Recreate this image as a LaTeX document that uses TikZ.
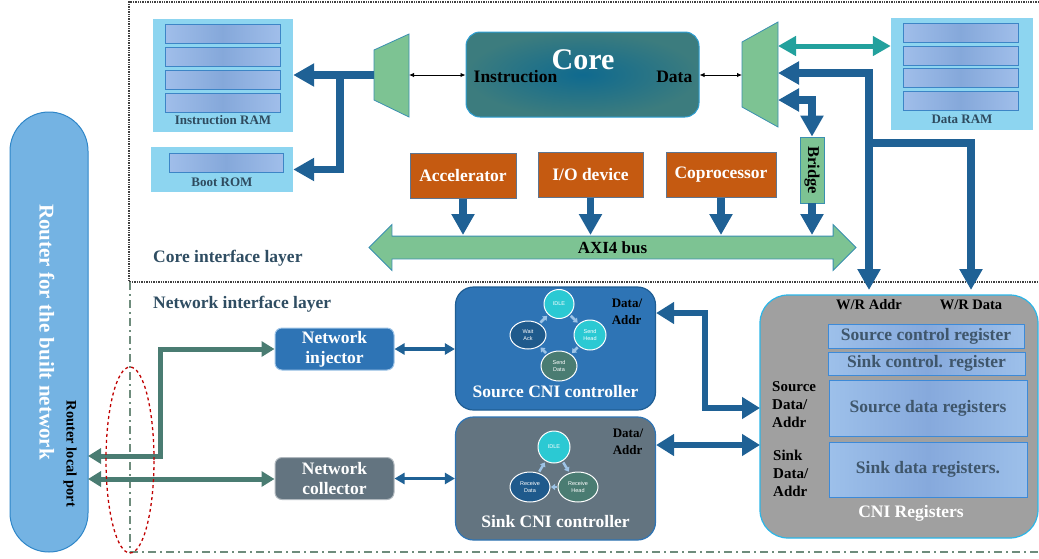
\documentclass[tikz,border=0pt]{standalone}
\usepackage{fontspec}
\usepackage{graphicx}
\setmainfont{Liberation Serif}
\newfontfamily\fsmfont{Liberation Sans}
\usepackage{tikz}
\usetikzlibrary{arrows.meta,positioning,shapes.geometric,shapes.arrows}

\definecolor{ramfill}{HTML}{8DD5F0}
\definecolor{rowside}{HTML}{A0BEEA}
\definecolor{rowmid}{HTML}{85A8DA}
\definecolor{ramedge}{HTML}{3D85C6}
\definecolor{ramtxt}{HTML}{2E4A5E}
\definecolor{arrblue}{HTML}{1F6195}
\definecolor{corein}{HTML}{0F6A8F}
\definecolor{coreout}{HTML}{3C7C7E}
\definecolor{coreedge}{HTML}{2E9ED3}
\definecolor{accfill}{HTML}{C55A11}
\definecolor{accedge}{HTML}{5E7590}
\definecolor{grnfill}{HTML}{7DC393}
\definecolor{muxedge}{HTML}{3A8FB0}
\definecolor{tealc}{HTML}{22A19D}
\definecolor{srcfill}{HTML}{2E74B5}
\definecolor{srcedge}{HTML}{1F5E94}
\definecolor{snkfill}{HTML}{637480}
\definecolor{injedge}{HTML}{9DC3E6}
\definecolor{colledge}{HTML}{B0B8BE}
\definecolor{grnc}{HTML}{4A7C72}
\definecolor{regfill}{HTML}{A0A0A0}
\definecolor{regedge}{HTML}{2BB6E8}
\definecolor{rboxside}{HTML}{9DC0EA}
\definecolor{rboxmid}{HTML}{86A9DC}
\definecolor{rboxedge}{HTML}{3D8AD8}
\definecolor{rboxtxt}{HTML}{3F566B}
\definecolor{routfill}{HTML}{74B3E3}
\definecolor{routedge}{HTML}{2E86C8}
\definecolor{layertxt}{HTML}{2F4D62}
\definecolor{ringred}{HTML}{C00000}
\definecolor{idlec}{HTML}{2BC9D3}
\definecolor{waitc}{HTML}{1F5A8C}
\definecolor{fsmarrc}{HTML}{9DC3E6}
\definecolor{netframe}{HTML}{6E8C7C}

\begin{document}
\begin{tikzpicture}[x=1pt,y=-1pt,
  bt/.tip={Triangle[length=21pt,width=22pt]},
  tt/.tip={Triangle[length=18pt,width=19pt]},
  gt/.tip={Triangle[length=13pt,width=15pt]},
  mt/.tip={Triangle[length=10pt,width=11pt]},
  ct/.tip={Triangle[length=18pt,width=21pt]},
  ramrow/.style={draw=ramedge,line width=0.8pt,left color=rowside,right color=rowside,middle color=rowmid,minimum width=115pt,minimum height=19pt,inner sep=0pt},
  rambox/.style={fill=ramfill,inner sep=0pt},
  ramlbl/.style={text=ramtxt,font=\bfseries\fontsize{13}{15}\selectfont,inner sep=0pt},
  muxst/.style={fill=grnfill,draw=muxedge,line width=0.8pt},
  periph/.style={fill=accfill,draw=accedge,line width=1pt,text=white,font=\bfseries\fontsize{17.5}{21}\selectfont,minimum height=45pt,inner sep=0pt},
  bigarr/.style={draw=arrblue,line width=7.5pt,-bt},
  thinarr/.style={draw=black,line width=0.9pt,{Latex[length=5pt,width=4.5pt]}-{Latex[length=5pt,width=4.5pt]}},
  netblk/.style={rounded corners=7pt,minimum width=119pt,minimum height=42pt,text=white,line width=1pt,inner sep=0pt,align=center,font=\bfseries\fontsize{17.5}{20}\selectfont},
  ctrlst/.style={rounded corners=18pt,minimum width=200pt,minimum height=123pt,line width=1.2pt,inner sep=0pt},
  ctrllbl/.style={text=white,font=\bfseries\fontsize{17.5}{21}\selectfont,inner sep=0pt},
  addrlbl/.style={align=left,font=\bfseries\fontsize{13}{17}\selectfont,inner sep=0pt},
  fsmst/.style={ellipse,draw=white,line width=1pt,text=white,align=center,inner sep=0pt,font=\fsmfont\fontsize{5.5}{6.5}\selectfont},
  fsmarr/.style={draw=fsmarrc,line width=2.5pt,-{Triangle[length=4pt,width=6pt]},shorten <=1.5pt,shorten >=1.5pt},
  rbox/.style={draw=rboxedge,line width=0.8pt,left color=rboxside,right color=rboxside,middle color=rboxmid,text=rboxtxt,inner sep=0pt,font=\bfseries\fontsize{17.5}{20}\selectfont},
  sidelbl/.style={align=left,font=\bfseries\fontsize{15}{18}\selectfont,inner sep=0pt},
  layerlbl/.style={text=layertxt,font=\bfseries\fontsize{17.5}{21}\selectfont,inner sep=0pt}]
\useasboundingbox (0,0) rectangle (1039,558);

% layer frames
\draw[densely dotted,line width=1.4pt,black!75] (1039,2) -- (129,2) -- (129,282) -- (1039,282);
\draw[netframe,line width=1.5pt,dash pattern=on 8pt off 4pt on 2pt off 4pt] (130,282) -- (130,552) -- (1039,552);
\node[layerlbl,anchor=west] (corelayer) at (153,258) {Core interface layer};
\node[layerlbl,anchor=west] (netlayer) at (153,304) {Network interface layer};

% router
\node[rounded corners=39pt,fill=routfill,draw=routedge,line width=1pt,minimum width=78pt,minimum height=440pt,inner sep=0pt] (router) at (49,332) {};
\node[rotate=-90,text=white,font=\bfseries\fontsize{21}{25}\selectfont] (routername) at (47,332) {Router for the built network};
\node[rotate=-90,font=\bfseries\fontsize{14.5}{17}\selectfont] (localport) at (70,454) {Router local port};

% memories
\node[rambox,minimum width=140pt,minimum height=113pt] (iram) at (223,75.5) {};
\foreach \y [count=\i] in {34,57,79.5,102.5}
  \node[ramrow] (ir\i) at (222.5,\y) {};
\node[ramlbl] (iramlbl) at (223,120.5) {Instruction RAM};
\node[rambox,minimum width=142pt,minimum height=45pt] (brom) at (222,169.5) {};
\node[ramrow,minimum width=114pt] (br1) at (226,162.5) {};
\node[ramlbl] (bromlbl) at (222,182.5) {Boot ROM};
\node[rambox,minimum width=142pt,minimum height=112pt] (dram) at (962,74) {};
\foreach \y [count=\i] in {32.5,55.5,78,101}
  \node[ramrow] (dr\i) at (960.5,\y) {};
\node[ramlbl] (dramlbl) at (962,119.5) {Data RAM};

% muxes
\filldraw[muxst] (374,50) -- (409,34) -- (409,117) -- (374,100) -- cycle;
\filldraw[muxst] (742,42) -- (778,22) -- (778,127) -- (742,107) -- cycle;
\coordinate (mux1l) at (374,75);
\coordinate (mux1r) at (409,75);
\coordinate (mux2l) at (742,75);
\coordinate (mux2t) at (778,46);
\coordinate (mux2r) at (778,73);
\coordinate (mux2b) at (778,100);

% core
\node[rounded corners=14pt,inner color=corein,outer color=coreout,draw=coreedge,line width=1pt,minimum width=233pt,minimum height=85pt,inner sep=0pt] (core) at (582.5,74.5) {};
\node[text=white,font=\bfseries\fontsize{30}{34}\selectfont,inner sep=0pt] (corelbl) at (583,60) {Core};
\node[anchor=west,font=\bfseries\fontsize{17.5}{21}\selectfont,inner sep=0pt] (instrlbl) at ([xshift=8pt,yshift=-2.5pt]core.west) {Instruction};
\node[anchor=east,font=\bfseries\fontsize{17.5}{21}\selectfont,inner sep=0pt] (datalbl) at ([xshift=-7pt,yshift=-2.5pt]core.east) {Data};

% peripherals and bus
\node[periph,minimum width=106pt] (acc) at (463,175.5) {Accelerator};
\node[periph,minimum width=105pt] (iodev) at (590.5,174.5) {I/O device};
\node[periph,minimum width=110pt] (copro) at (721,174.5) {Coprocessor};
\node[fill=grnfill,draw=muxedge,line width=0.8pt,minimum width=24pt,minimum height=66pt,inner sep=0pt,font=\bfseries\fontsize{16.5}{20}\selectfont] (bridge) at (812,170) {\rotatebox{-90}{Bridge}};
\node[double arrow,fill=grnfill,draw=muxedge,line width=0.8pt,minimum height=487pt,minimum width=45pt,double arrow head extend=11.5pt,text height=12pt,text depth=0pt,inner ysep=5pt,inner xsep=0pt,font=\bfseries\fontsize{17}{20}\selectfont] (axibus) at (612.5,247.5) {AXI4 bus};
\coordinate (bustop) at (612.5,235);

\draw[bigarr] (acc.south) -- (acc.south |- bustop);
\draw[bigarr] (iodev.south) -- (iodev.south |- bustop);
\draw[bigarr] (copro.south) -- (copro.south |- bustop);
\draw[bigarr] (bridge.south) -- (bridge.south |- bustop);

% core side connectors
\coordinate (romsplit) at (340,75);
\draw[bigarr] (mux1l) -- (iram.east |- mux1l);
\draw[bigarr] (romsplit) |- (brom.east);
\draw[thinarr] (mux1r) -- (core.west |- mux1r);
\draw[thinarr] (core.east |- mux2l) -- (mux2l);
\draw[draw=tealc,line width=5pt,tt-tt] (mux2t) -- (mux2t -| dram.west);
\draw[bigarr,bt-bt] (mux2b) -| (bridge.north);

% CNI registers
\node[rounded corners=28pt,fill=regfill,draw=regedge,line width=1.2pt,minimum width=278pt,minimum height=243pt,inner sep=0pt] (cnireg) at (899,416.5) {};
\node[font=\bfseries\fontsize{14.5}{17}\selectfont,inner sep=0pt] (wraddrlbl) at (869,305) {W/R Addr};
\node[font=\bfseries\fontsize{14.5}{17}\selectfont,inner sep=0pt] (wrdatalbl) at (971,305) {W/R Data};
\node[rbox,minimum width=196pt,minimum height=24pt] (srcctlreg) at (926,336) {Source control register};
\node[rbox,minimum width=197pt,minimum height=23pt] (snkctlreg) at (926.5,363.5) {Sink control. register};
\node[rbox,minimum width=198pt,minimum height=56pt] (srcdreg) at (928,408) {Source data registers};
\node[rbox,minimum width=198pt,minimum height=55pt] (snkdreg) at (928,469.5) {Sink data registers.};
\node[sidelbl,anchor=west] (srcside) at (772,405) {Source\\Data/\\Addr};
\node[sidelbl,anchor=west] (snkside) at (773,473) {Sink\\Data/\\Addr};
\node[text=white,font=\bfseries\fontsize{17.5}{21}\selectfont,inner sep=0pt] (cnireglbl) at (911,513) {CNI Registers};

\coordinate (wraddr) at (869,290);
\coordinate (wrdata) at (971,290);
\coordinate (wrsplit) at (869,143);
\draw[bigarr,bt-bt] (mux2r) -| (wraddr);
\draw[bigarr] (wrsplit) -| (wrdata);

% network side
\node[netblk,fill=srcfill,draw=injedge] (injector) at (334.5,349) {Network\\injector};
\node[netblk,fill=snkfill,draw=colledge] (collector) at (334.5,478.5) {Network\\collector};
\node[ctrlst,fill=srcfill,draw=srcedge] (srcctrl) at (555.5,348.5) {};
\node[ctrllbl] (srclbl) at (555.5,392) {Source CNI controller};
\node[addrlbl] (srcaddr) at (627,312) {Data/\\Addr};
\node[ctrlst,fill=snkfill,draw=srcfill] (snkctrl) at (555.5,478.5) {};
\node[ctrllbl] (snklbl) at (555.5,522) {Sink CNI controller};
\node[addrlbl] (snkaddr) at (628,442) {Data/\\Addr};

% source state machine
\node[fsmst,fill=idlec,minimum width=30pt,minimum height=29pt] (sidle) at (559,304) {IDLE};
\node[fsmst,fill=idlec,minimum width=32pt,minimum height=30pt] (shead) at (590,335) {Send\\Head};
\node[fsmst,fill=grnc,minimum width=36pt,minimum height=30pt] (sdata) at (559,366) {Send\\Data};
\node[fsmst,fill=waitc,minimum width=36pt,minimum height=28pt] (swait) at (528,335) {Wait\\Ack};
\draw[fsmarr] (sidle) -- (shead);
\draw[fsmarr] (shead) -- (sdata);
\draw[fsmarr] (sdata) -- (swait);
\draw[fsmarr] (swait) -- (sidle);

% sink state machine
\node[fsmst,fill=idlec,minimum width=32pt,minimum height=32pt] (kidle) at (554,447) {IDLE};
\node[fsmst,fill=waitc,minimum width=40pt,minimum height=30pt] (kdata) at (530,487) {Receive\\Data};
\node[fsmst,fill=grnc,minimum width=40pt,minimum height=30pt] (khead) at (578,487) {Receive\\Head};
\draw[fsmarr] (kidle) -- (khead);
\draw[fsmarr,shorten <=0.5pt,shorten >=0.5pt] (khead) -- (kdata);
\draw[fsmarr] (kdata) -- (kidle);

% network connectors
\coordinate (port1) at (88,456);
\coordinate (port2) at (88,479);
\coordinate (srcport) at (760,408);
\coordinate (snkport) at (760,445);
\draw[draw=grnc,line width=5pt,gt-gt] (port1) -- ++(72,0) |- (injector.west);
\draw[draw=grnc,line width=5pt,gt-gt] (port2) -- (collector.west |- port2);
\draw[draw=arrblue,line width=3.5pt,mt-mt] (injector.east) -- (srcctrl.west |- injector.east);
\draw[draw=arrblue,line width=3.5pt,mt-mt] (collector.east) -- (snkctrl.west |- collector.east);
\draw[draw=arrblue,line width=6pt,ct-ct] ([yshift=35.5pt]srcctrl.east) -- ++(49,0) |- (srcport);
\draw[draw=arrblue,line width=6pt,ct-ct] (snkctrl.east |- snkport) -- (snkport);

\node[ellipse,draw=ringred,dashed,line width=1.3pt,minimum width=48pt,minimum height=186pt,inner sep=0pt] (portring) at (130,460) {};
\end{tikzpicture}
\end{document}
